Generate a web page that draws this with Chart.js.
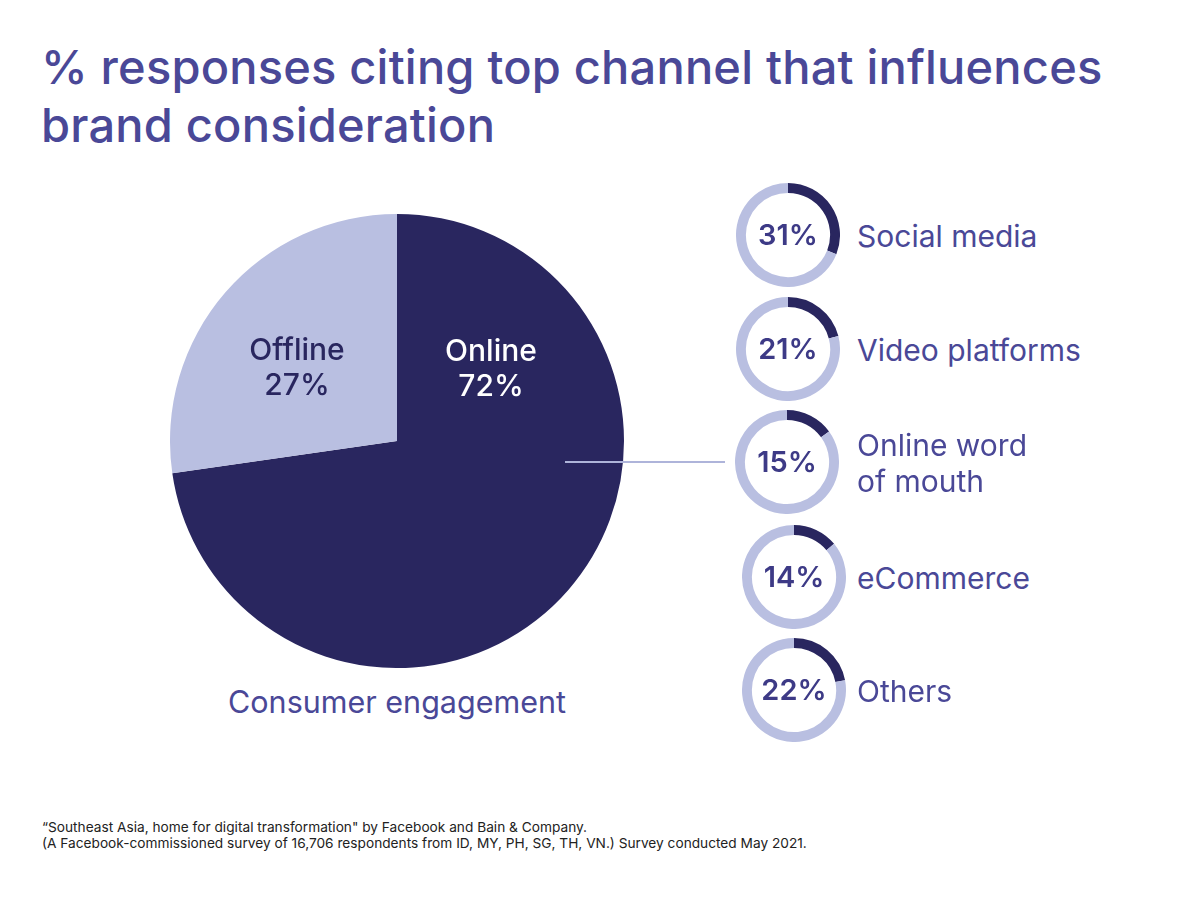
<!DOCTYPE html>
<html>
<head>
<meta charset="utf-8">
<script src="https://cdn.jsdelivr.net/npm/chart.js@4"></script>
<style>
  body { margin: 0; background: #fff; font-family: Inter, "Noto Sans", sans-serif; }
  #page { position: relative; width: 1200px; height: 900px; overflow: hidden; }
  .txt { position: absolute; color: #4a4897; white-space: nowrap; }
  #title { left: 41px; top: 38px; font-size: 47px; font-weight: 500; line-height: 58px; letter-spacing: 0.2px; }
  .pieLabel { font-size: 30px; font-weight: 500; line-height: 35px; text-align: center; transform: translateX(-50%); }
  #caption { left: 397px; top: 683px; font-size: 30.5px; transform: translateX(-50%); }
  .ringBox { position: absolute; width: 104px; height: 104px; }
  .ringVal { position: absolute; left: 0; top: 0; width: 104px; line-height: 104px; text-align: center; font-size: 29px; font-weight: 600; color: #3d3a86; }
  .ringName { font-size: 30px; line-height: 36px; }
  #connector { position: absolute; left: 565px; top: 461px; width: 160px; height: 2px; background: #aeb4da; }
  #foot { left: 42px; top: 819px; font-size: 13.7px; line-height: 16px; color: #222; }
</style>
</head>
<body>
<div id="page">
  <div id="title" class="txt">% responses citing top channel that influences<br>brand consideration</div>
  <canvas id="pie" style="position:absolute; left:170px; top:214px; width:454px; height:454px;"></canvas>
  <div id="connector"></div>
  <div class="txt pieLabel" style="left:297px; top:332px; color:#29265f;">Offline<br>27%</div>
  <div class="txt pieLabel" style="left:491px; top:333px; color:#ffffff;">Online<br>72%</div>
  <div id="caption" class="txt">Consumer engagement</div>
  <div id="foot" class="txt">“Southeast Asia, home for digital transformation" by Facebook and Bain &amp; Company.<br>(A Facebook-commissioned survey of 16,706 respondents from ID, MY, PH, SG, TH, VN.) Survey conducted May 2021.</div>
</div>
<script>
// Consumer engagement split
const engagementLabels = ["Online", "Offline"];
const engagementValues = [72, 27];

// Top online channels (% of responses)
const channelLabels = ["Social media", "Video platforms", "Online word\nof mouth", "eCommerce", "Others"];
const channelValues = [31, 21, 15, 14, 22];

const darkNavy = "#29265f";
const lightLilac = "#b9bfe1";

// ring centres on the page
const ringCentres = [[788, 235], [788, 349], [787, 462], [794, 577], [794, 690]];

new Chart(document.getElementById("pie"), {
    type: "pie",
    data: {
        labels: engagementLabels,
        datasets: [{
            data: engagementValues,
            backgroundColor: [darkNavy, lightLilac],
            borderWidth: 0,
        }],
    },
    options: {
        responsive: false,
        animation: false,
        plugins: { legend: { display: false }, tooltip: { enabled: false } },
    },
});

const page = document.getElementById("page");
channelValues.forEach(function (val, i) {
    const cx = ringCentres[i][0], cy = ringCentres[i][1];
    const box = document.createElement("div");
    box.className = "ringBox";
    box.style.left = (cx - 52) + "px";
    box.style.top = (cy - 52) + "px";
    const cv = document.createElement("canvas");
    cv.width = 104; cv.height = 104;
    cv.style.width = "104px"; cv.style.height = "104px";
    box.appendChild(cv);
    const lbl = document.createElement("div");
    lbl.className = "ringVal";
    lbl.textContent = val + "%";
    box.appendChild(lbl);
    page.appendChild(box);

    new Chart(cv, {
        type: "doughnut",
        data: {
            labels: [channelLabels[i], "rest"],
            datasets: [{
                data: [val, 100 - val],
                backgroundColor: [darkNavy, lightLilac],
                borderWidth: 0,
            }],
        },
        options: {
            responsive: false,
            animation: false,
            cutout: "81%",
            plugins: { legend: { display: false }, tooltip: { enabled: false } },
        },
    });

    // channel name beside the ring
    const name = document.createElement("div");
    name.className = "txt ringName";
    const lines = channelLabels[i].split("\n");
    name.innerHTML = lines.join("<br>");
    name.style.left = "857px";
    name.style.top = (cy - 18 * lines.length + 1) + "px";
    page.appendChild(name);
});
</script>
</body>
</html>
